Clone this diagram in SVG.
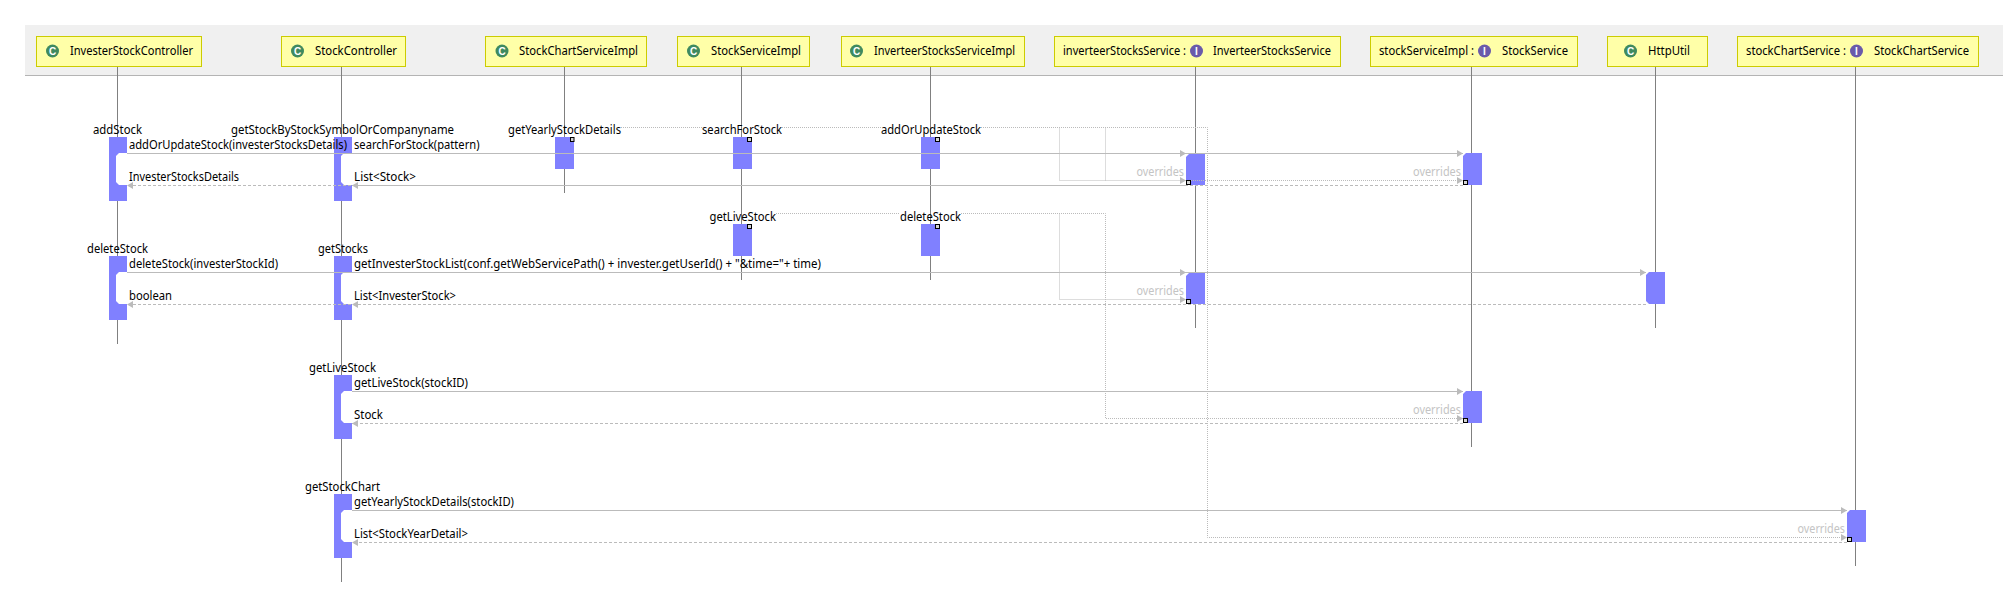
<svg xmlns="http://www.w3.org/2000/svg" width="2003" height="606" viewBox="0 0 2003 606">
<style>
text{font-family:"Noto Sans","Liberation Sans",sans-serif;font-size:12px;fill:#000}
.box{fill:#ffffa8;stroke:#cccc00;stroke-width:1}
.life{stroke:#808080;stroke-width:1;fill:none}
.act{fill:#8080ff}
.notch{fill:#fff}
.sq{fill:#d4d4d4;stroke:#000;stroke-width:1}
.c{fill:#3f8a5f}
.i{fill:#6a5aaa}
text.g{font-family:"Liberation Sans",sans-serif;font-size:10px;font-weight:bold;fill:#fff;text-anchor:middle}
.call,.ret,.dot{fill:none;stroke:#bbb;stroke-width:1}
.ret{stroke-dasharray:3 2}
.dot{stroke:#bbb;stroke-dasharray:1 1}
text.ov{fill:#c4c4c4}
</style>
<defs>
<marker id="arr" markerUnits="userSpaceOnUse" markerWidth="6" markerHeight="7" viewBox="0 0 6 7" refX="6" refY="3.5" orient="auto"><path d="M0 0L6 3.5L0 7Z" fill="#bbb"/></marker>
</defs>
<rect x="25" y="25" width="1978" height="50" fill="#f0f0f0"/>
<rect x="25" y="75" width="1978" height="1" fill="#b4b4b4"/>

<g id="InvesterStockController">
<line class="life" x1="117.5" y1="66" x2="117.5" y2="344"/>
<rect class="box" x="36.5" y="36.5" width="165" height="30"/>
<circle class="c" cx="52.5" cy="51" r="6.5"/><text class="g" x="52.5" y="54.5">C</text>
<text x="70" y="55" textLength="123" lengthAdjust="spacingAndGlyphs">InvesterStockController</text>
<rect class="act" x="109" y="137" width="18" height="64"/>
<path class="notch" d="M119 153H127V185H119L116 182V156Z"/>
<text x="93" y="134" textLength="49" lengthAdjust="spacingAndGlyphs">addStock</text>
<rect class="act" x="109" y="256" width="18" height="64"/>
<path class="notch" d="M119 272H127V304H119L116 301V275Z"/>
<text x="87" y="253" textLength="61" lengthAdjust="spacingAndGlyphs">deleteStock</text>
</g>

<g id="StockController">
<line class="life" x1="341.5" y1="66" x2="341.5" y2="582"/>
<rect class="box" x="281.5" y="36.5" width="124" height="30"/>
<circle class="c" cx="297.5" cy="51" r="6.5"/><text class="g" x="297.5" y="54.5">C</text>
<text x="315" y="55" textLength="82" lengthAdjust="spacingAndGlyphs">StockController</text>
<rect class="act" x="334" y="137" width="18" height="64"/>
<path class="notch" d="M344 153H352V185H344L341 182V156Z"/>
<text x="231" y="134" textLength="223" lengthAdjust="spacingAndGlyphs">getStockByStockSymbolOrCompanyname</text>
<rect class="act" x="334" y="256" width="18" height="64"/>
<path class="notch" d="M344 272H352V304H344L341 301V275Z"/>
<text x="318" y="253" textLength="50" lengthAdjust="spacingAndGlyphs">getStocks</text>
<rect class="act" x="334" y="375" width="18" height="64"/>
<path class="notch" d="M344 391H352V423H344L341 420V394Z"/>
<text x="309" y="372" textLength="67" lengthAdjust="spacingAndGlyphs">getLiveStock</text>
<rect class="act" x="334" y="494" width="18" height="64"/>
<path class="notch" d="M344 510H352V542H344L341 539V513Z"/>
<text x="305" y="491" textLength="75" lengthAdjust="spacingAndGlyphs">getStockChart</text>
</g>

<g id="StockChartServiceImpl">
<line class="life" x1="564.5" y1="66" x2="564.5" y2="193"/>
<rect class="box" x="485.5" y="36.5" width="161" height="30"/>
<circle class="c" cx="502" cy="51" r="6.5"/><text class="g" x="502" y="54.5">C</text>
<text x="519" y="55" textLength="119" lengthAdjust="spacingAndGlyphs">StockChartServiceImpl</text>
<rect class="act" x="555" y="137" width="19" height="32"/>
<rect class="sq" x="570.5" y="137.5" width="3.5" height="4"/>
<text x="508" y="134" textLength="113" lengthAdjust="spacingAndGlyphs">getYearlyStockDetails</text>
</g>

<g id="StockServiceImpl">
<line class="life" x1="741.5" y1="66" x2="741.5" y2="280"/>
<rect class="box" x="677.5" y="36.5" width="132" height="30"/>
<circle class="c" cx="693.5" cy="51" r="6.5"/><text class="g" x="693.5" y="54.5">C</text>
<text x="711" y="55" textLength="90" lengthAdjust="spacingAndGlyphs">StockServiceImpl</text>
<rect class="act" x="733" y="137" width="19" height="32"/>
<rect class="sq" x="747.5" y="137.5" width="4" height="4"/>
<text x="702" y="134" textLength="80" lengthAdjust="spacingAndGlyphs">searchForStock</text>
<rect class="act" x="733" y="224" width="19" height="32"/>
<rect class="sq" x="747.5" y="224.5" width="4" height="4"/>
<text x="709.5" y="221" textLength="66.5" lengthAdjust="spacingAndGlyphs">getLiveStock</text>
</g>

<g id="InverteerStocksServiceImpl">
<line class="life" x1="930.5" y1="66" x2="930.5" y2="280"/>
<rect class="box" x="841.5" y="36.5" width="183" height="30"/>
<circle class="c" cx="856.5" cy="51" r="6.5"/><text class="g" x="856.5" y="54.5">C</text>
<text x="874" y="55" textLength="141" lengthAdjust="spacingAndGlyphs">InverteerStocksServiceImpl</text>
<rect class="act" x="921" y="137" width="19" height="32"/>
<rect class="sq" x="935.5" y="137.5" width="4" height="4"/>
<text x="881" y="134" textLength="100" lengthAdjust="spacingAndGlyphs">addOrUpdateStock</text>
<rect class="act" x="921" y="224" width="19" height="32"/>
<rect class="sq" x="935.5" y="224.5" width="4" height="4"/>
<text x="900" y="221" textLength="61" lengthAdjust="spacingAndGlyphs">deleteStock</text>
</g>

<g id="inverteerStocksService">
<line class="life" x1="1195.5" y1="66" x2="1195.5" y2="328"/>
<rect class="box" x="1054.5" y="36.5" width="286" height="30"/>
<text x="1063" y="55" textLength="123" lengthAdjust="spacingAndGlyphs">inverteerStocksService :</text>
<circle class="i" cx="1196.5" cy="51" r="6.5"/><text class="g" x="1196.5" y="54.5">I</text>
<text x="1213" y="55" textLength="118" lengthAdjust="spacingAndGlyphs">InverteerStocksService</text>
<path class="act" d="M1189 154H1205V185H1186V157Z"/>
<rect class="sq" x="1186.5" y="180.5" width="4" height="4"/>
<path class="act" d="M1189 273H1205V304H1186V276Z"/>
<rect class="sq" x="1186.5" y="299.5" width="4" height="4"/>
</g>

<g id="stockServiceImpl">
<line class="life" x1="1471.5" y1="66" x2="1471.5" y2="447"/>
<rect class="box" x="1370.5" y="36.5" width="207" height="30"/>
<text x="1379" y="55" textLength="95" lengthAdjust="spacingAndGlyphs">stockServiceImpl :</text>
<circle class="i" cx="1484.5" cy="51" r="6.5"/><text class="g" x="1484.5" y="54.5">I</text>
<text x="1502" y="55" textLength="66" lengthAdjust="spacingAndGlyphs">StockService</text>
<path class="act" d="M1466 153H1482V185H1463V156Z"/>
<rect class="sq" x="1463.5" y="180.5" width="4" height="4"/>
<path class="act" d="M1466 391H1482V423H1463V394Z"/>
<rect class="sq" x="1463.5" y="418.5" width="4" height="4"/>
</g>

<g id="HttpUtil">
<line class="life" x1="1655.5" y1="66" x2="1655.5" y2="328"/>
<rect class="box" x="1607.5" y="36.5" width="100" height="30"/>
<circle class="c" cx="1630.5" cy="51" r="6.5"/><text class="g" x="1630.5" y="54.5">C</text>
<text x="1648" y="55" textLength="42" lengthAdjust="spacingAndGlyphs">HttpUtil</text>
<path class="act" d="M1649 272H1665V304H1649L1646 301V275Z"/>
</g>

<g id="stockChartService">
<line class="life" x1="1855.5" y1="66" x2="1855.5" y2="566"/>
<rect class="box" x="1737.5" y="36.5" width="241" height="30"/>
<text x="1746" y="55" textLength="100" lengthAdjust="spacingAndGlyphs">stockChartService :</text>
<circle class="i" cx="1856.5" cy="51" r="6.5"/><text class="g" x="1856.5" y="54.5">I</text>
<text x="1874" y="55" textLength="95" lengthAdjust="spacingAndGlyphs">StockChartService</text>
<path class="act" d="M1850 510H1866V542H1847V513Z"/>
<rect class="sq" x="1847.5" y="537.5" width="4" height="4"/>
</g>

<g id="connectors">
<line class="call" x1="127" y1="153.5" x2="1186" y2="153.5" marker-end="url(#arr)"/>
<line class="call" x1="352" y1="153.5" x2="1463" y2="153.5" marker-end="url(#arr)"/>
<line class="ret" x1="1463" y1="185.5" x2="352" y2="185.5" marker-end="url(#arr)"/>
<line class="ret" x1="1186" y1="185.5" x2="127" y2="185.5" marker-end="url(#arr)"/>
<line class="call" x1="127" y1="272.5" x2="1186" y2="272.5" marker-end="url(#arr)"/>
<line class="call" x1="352" y1="272.5" x2="1646" y2="272.5" marker-end="url(#arr)"/>
<line class="ret" x1="1186" y1="304.5" x2="127" y2="304.5" marker-end="url(#arr)"/>
<line class="ret" x1="1646" y1="304.5" x2="352" y2="304.5" marker-end="url(#arr)"/>
<line class="call" x1="352" y1="391.5" x2="1463" y2="391.5" marker-end="url(#arr)"/>
<line class="ret" x1="1463" y1="423.5" x2="352" y2="423.5" marker-end="url(#arr)"/>
<line class="call" x1="352" y1="510.5" x2="1847" y2="510.5" marker-end="url(#arr)"/>
<line class="ret" x1="1847" y1="542.5" x2="352" y2="542.5" marker-end="url(#arr)"/>
<path class="dot" d="M621 127.5H702M782 127.5H881M981 127.5H1207.5V537.5H1847" marker-end="url(#arr)"/>
<path class="dot" d="M1059.5 127.5V180.5H1186" marker-end="url(#arr)"/>
<path class="dot" d="M1105.5 127.5V180.5M1191 180.5H1463" marker-end="url(#arr)"/>
<path class="dot" d="M776 213.5H900M961 213.5H1105.5V418.5H1463" marker-end="url(#arr)"/>
<path class="dot" d="M1059.5 213.5V299.5H1186" marker-end="url(#arr)"/>
<text x="129" y="149" textLength="218" lengthAdjust="spacingAndGlyphs">addOrUpdateStock(investerStocksDetails)</text>
<text x="354" y="149" textLength="125.5" lengthAdjust="spacingAndGlyphs">searchForStock(pattern)</text>
<text x="129" y="181" textLength="110" lengthAdjust="spacingAndGlyphs">InvesterStocksDetails</text>
<text x="354" y="181" textLength="62" lengthAdjust="spacingAndGlyphs">List&lt;Stock&gt;</text>
<text x="129" y="268" textLength="149" lengthAdjust="spacingAndGlyphs">deleteStock(investerStockId)</text>
<text x="354" y="268" textLength="467" lengthAdjust="spacingAndGlyphs">getInvesterStockList(conf.getWebServicePath() + invester.getUserId() + "&amp;time="+ time)</text>
<text x="129" y="300" textLength="43" lengthAdjust="spacingAndGlyphs">boolean</text>
<text x="354" y="300" textLength="102" lengthAdjust="spacingAndGlyphs">List&lt;InvesterStock&gt;</text>
<text x="354" y="387" textLength="114" lengthAdjust="spacingAndGlyphs">getLiveStock(stockID)</text>
<text x="354" y="419" textLength="29" lengthAdjust="spacingAndGlyphs">Stock</text>
<text x="354" y="506" textLength="160" lengthAdjust="spacingAndGlyphs">getYearlyStockDetails(stockID)</text>
<text x="354" y="538" textLength="114" lengthAdjust="spacingAndGlyphs">List&lt;StockYearDetail&gt;</text>
<text class="ov" x="1136.5" y="176" textLength="47.5" lengthAdjust="spacingAndGlyphs">overrides</text>
<text class="ov" x="1413" y="176" textLength="48" lengthAdjust="spacingAndGlyphs">overrides</text>
<text class="ov" x="1136.5" y="295" textLength="47.5" lengthAdjust="spacingAndGlyphs">overrides</text>
<text class="ov" x="1413" y="414" textLength="48" lengthAdjust="spacingAndGlyphs">overrides</text>
<text class="ov" x="1797.5" y="533" textLength="47.5" lengthAdjust="spacingAndGlyphs">overrides</text>
</g>
</svg>
